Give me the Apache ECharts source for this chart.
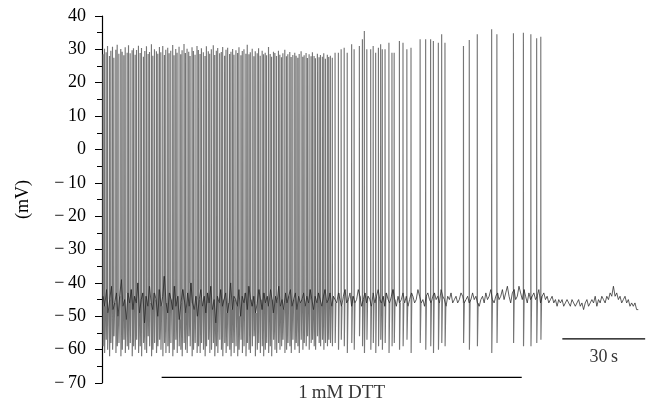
<!DOCTYPE html>
<html>
<head>
<meta charset="utf-8">
<script src="https://cdn.jsdelivr.net/npm/echarts@6/dist/echarts.min.js"></script>
<style>html,body{margin:0;padding:0;background:#fff}#c{width:646px;height:410px}</style>
</head>
<body>
<div id="c"></div>
<script>
// ---- Data (time in seconds, voltage in mV) ----
var yTicks = [-70, -60, -50, -40, -30, -20, -10, 0, 10, 20, 30, 40];

// Dense firing phase: spike times, peaks, troughs
var denseTimes = [0.4,0.9,1.5,2.0,2.7,3.2,3.8,4.3,5.0,5.5,
6.1,6.8,7.3,7.9,8.4,9.1,9.6,10.2,10.9,11.4,
12.0,12.5,13.2,13.8,14.3,15.0,15.5,16.1,16.7,17.2,
17.9,18.4,19.0,19.7,20.2,20.8,21.3,22.0,22.6,23.1,
23.8,24.3,24.9,25.6,26.1,26.7,27.2,27.9,28.5,29.0,
29.7,30.2,30.8,31.4,31.9,32.6,33.1,33.7,34.4,34.9,
35.5,36.0,36.7,37.3,37.8,38.5,39.0,39.6,40.3,40.8,
41.4,41.9,42.6,43.2,43.7,44.4,44.9,45.5,46.2,46.7,
47.3,47.8,48.5,49.1,49.6,50.3,50.8,51.4,52.1,52.6,
53.2,53.7,54.4,55.0,55.5,56.2,56.7,57.3,58.0,58.5,
59.1,59.6,60.3,60.9,61.4,62.1,62.6,63.2,63.9,64.4,
65.0,65.5,66.2,66.8,67.3,68.0,68.5,69.1,69.8,70.3,
70.9,71.4,72.1,72.7,73.2,73.9,74.4,75.0,75.7,76.2,
76.8,77.3,78.0,78.6,79.1,79.8,80.3,80.9,81.6,82.1,
82.7,83.4];
var densePeaks = [28.5,30.2,29.1,31.0,28.0,29.6,30.8,27.5,29.9,31.4,28.7,30.1,29.3,28.2,30.6,29.0,31.2,28.8,29.7,30.3,
28.4,29.8,31.1,28.9,30.4,27.8,29.5,30.9,28.6,29.2,31.5,28.1,30.0,29.4,28.7,30.7,29.1,31.0,28.3,29.9,
30.5,28.8,29.6,31.3,28.2,30.1,29.0,30.8,28.5,29.7,31.6,28.9,30.2,29.3,28.0,30.6,29.5,28.4,31.0,29.8,
28.6,30.3,29.1,28.0,30.9,29.4,28.7,30.0,31.2,28.3,29.6,30.4,28.8,29.2,30.7,28.1,29.9,30.5,28.6,29.3,
30.1,28.4,29.7,28.9,30.6,28.2,29.5,30.0,28.7,31.4,28.5,29.1,30.2,27.9,29.4,28.8,30.3,28.1,29.6,28.5,
29.0,28.2,30.7,28.6,27.8,29.3,28.9,28.0,29.6,28.4,27.6,28.8,29.9,27.9,28.5,29.2,27.7,28.3,29.0,28.1,
27.5,28.6,29.4,27.8,28.2,28.9,27.4,28.5,27.9,29.1,28.0,27.3,28.7,27.6,28.3,27.8,28.8,27.2,28.4,27.7,
28.1,27.5];
var denseTroughs = [-59,-61,-57,-60,-62,-58,-60,-56,-61,-59,-58,-62,-60,-57,-61,-59,-60,-58,-62,-59,
-60,-57,-61,-59,-62,-58,-60,-61,-56,-59,-62,-60,-58,-61,-59,-57,-60,-62,-58,-61,
-59,-61,-58,-62,-60,-57,-61,-59,-60,-62,-58,-60,-61,-56,-59,-62,-60,-58,-61,-59,
-61,-58,-60,-62,-59,-57,-61,-60,-58,-62,-59,-61,-57,-60,-62,-58,-61,-59,-60,-62,
-58,-61,-59,-62,-60,-57,-61,-59,-62,-58,-60,-61,-59,-56,-62,-60,-58,-61,-59,-62,
-60,-58,-61,-59,-62,-57,-60,-61,-58,-60,-59,-57,-61,-60,-58,-59,-61,-57,-60,-58,
-59,-61,-57,-60,-58,-59,-56,-60,-58,-57,-59,-60,-56,-58,-59,-57,-60,-58,-59,-57,
-58,-59];

// Sparse firing phase
var sparseTimes = [84.4,85.6,86.6,87.7,88.8,90.4,91.3,93.2,94.3,95.0,
95.9,97.3,98.2,99.1,100.1,100.9,101.5,102.5,103.9,105.0,
105.8,107.7,109.0,110.4,111.9,115.2,117.2,119.0,120.0,121.8,
123.0,124.2,130.9,133.0,135.9,141.1,143.0,149.0,152.6,155.3,
157.4,158.9];
var sparsePeaks = [29,29,30,30.5,29,31.5,30,31,33,35.5,
30,30,31,29,30.5,31.5,30,30,32,29,
29,32.5,32,30,30.5,33,33,33,32.5,32,
34.5,32,31,32.8,34.5,36,34.5,34.8,35,34.5,
33.3,33.8];
var sparseTroughs = [-58,-60,-57,-59,-61,-58,-60,-56,-59,-61,
-57,-60,-58,-61,-59,-57,-60,-58,-61,-59,
-58,-60,-59,-57,-61,-58,-60,-59,-61,-60,
-58,-59,-58,-60,-59,-61,-58,-58,-59,-59,
-58,-57];

// Baseline membrane potential, sampled from 0.4 s every 0.6 s
var baselineStart = 0.4, baselineStep = 0.6;
var baselineMv = [
-44,-47,-42,-49,-45,-41,-48,-46,-43,-50,-44,-39,-47,-45,-51,-43,-46,-42,-48,-44,
-46,-40,-49,-45,-43,-52,-44,-47,-41,-46,-48,-43,-45,-50,-42,-47,-44,-38,-46,-49,
-43,-45,-48,-41,-47,-44,-51,-46,-42,-45,-49,-43,-47,-40,-46,-48,-44,-50,-45,-42,
-47,-44,-49,-43,-46,-41,-48,-45,-52,-44,-46,-42,-47,-45,-43,-49,-46,-40,-48,-44,
-45,-47,-42,-50,-44,-46,-43,-48,-41,-45,-47,-44,-49,-46,-42,-45,-48,-43,-46,-44,
-47,-42,-45,-49,-44,-46,-41,-47,-45,-48,-43,-46,-44,-42,-47,-45,-43,-48,-44,-46,
-45,-43,-47,-44,-46,-42,-45,-48,-44,-46,-43,-45,-47,-44,-42,-46,-45,-43,-47,-44,
-44,-46,-43,-45,-47,-44,-42,-46,-45,-43,-47,-44,-46,-45,-42,-44,-47,-45,-43,-46,
-44,-45,-47,-43,-46,-44,-42,-45,-46,-44,-47,-43,-45,-46,-44,-42,-45,-47,-44,-46,
-45,-43,-46,-44,-47,-45,-43,-44,-46,-45,-42,-44,-46,-45,-47,-44,-43,-45,-46,-44,
-43,-45,-44,-46,-42,-44,-45,-47,-44,-45,-43,-46,-45,-44,-46,-45,-43,-44,-46,-45,
-44,-46,-45,-43,-45,-44,-46,-47,-45,-44,-46,-43,-45,-44,-42,-45,-46,-44,-43,-45,
-44,-42,-45,-43,-41,-44,-46,-43,-42,-45,-44,-41,-43,-45,-42,-44,-46,-43,-45,-44,
-43,-45,-44,-42,-46,-44,
-43,-45,-44,-46,-45,-44,-46,-45,-47,-45,
-46,-45,-47,-46,-45,-46,-47,-45,-46,-47,
-46,-45,-47,-46,-48,-46,-45,-47,-46,-45,
-46,-44,-47,-45,-46,-44,-45,-46,-44,-45,
-43,-44,-41,-44,-43,-45,-44,-46,-45,-44,
-46,-45,-47,-46,-47,-46,-48,-48];

// Annotations
var dttBar = [21.6, 152.0];     // 1 mM DTT application (s)
var scaleBarStart = 166.7, scaleBarLength = 30; // 30 s

// ---- Build trace: baseline (dark) and action potentials (grey) ----
var spikeT = denseTimes.concat(sparseTimes);
var spikeP = densePeaks.concat(sparsePeaks);
var spikeQ = denseTroughs.concat(sparseTroughs);
function baseAt(t) {
  var idx = Math.min(baselineMv.length - 1, Math.max(0, Math.round((t - baselineStart) / baselineStep)));
  return baselineMv[idx];
}
var basePts = [];
for (var i = 0; i < baselineMv.length; i++) {
  basePts.push([+(baselineStart + i * baselineStep).toFixed(2), baselineMv[i]]);
}
var spikePts = [];
for (var k = 0; k < spikeT.length; k++) {
  var t = spikeT[k];
  spikePts.push([t - 0.02, baseAt(t)]);
  spikePts.push([t, spikeP[k]]);
  spikePts.push([t + 0.05, spikeQ[k]]);
  spikePts.push([t + 0.3, baseAt(t + 0.3)]);
  spikePts.push([t + 0.31, null]);
}

var serif = 'Liberation Serif, Times New Roman, serif';
var chart = echarts.init(document.getElementById('c'), null, {renderer: 'canvas'});
chart.setOption({
  animation: false,
  grid: {left: 102, right: 0, top: 16, bottom: 27},
  xAxis: {type: 'value', min: 0, max: 197, show: false},
  yAxis: {
    type: 'value', min: yTicks[0], max: yTicks[yTicks.length - 1], interval: 10,
    axisLine: {show: true, lineStyle: {color: '#000', width: 1.2}},
    axisTick: {show: true, length: 7, lineStyle: {color: '#000', width: 1}},
    minorTick: {show: true, splitNumber: 2, length: 5, lineStyle: {color: '#000', width: 1}},
    splitLine: {show: false},
    axisLabel: {
      color: '#000', fontFamily: serif, fontSize: 18, margin: 16,
      formatter: function (v) { return v < 0 ? '\u2212\u2009' + Math.abs(v) : String(v); }
    },
    name: '(mV)', nameLocation: 'middle', nameGap: 70,
    nameTextStyle: {color: '#000', fontFamily: serif, fontSize: 18}
  },
  series: [
    {type: 'line', data: spikePts, symbol: 'none', silent: true, connectNulls: false,
     lineStyle: {color: '#767676', width: 1.15}},
    {type: 'line', data: basePts, symbol: 'none', silent: true,
     lineStyle: {color: '#262626', width: 0.75}},
    {type: 'line', data: [[dttBar[0], -68.3], [dttBar[1], -68.3]], symbol: 'none', silent: true,
     lineStyle: {color: '#000', width: 1.3}},
    {type: 'line', data: [[scaleBarStart, -56.8], [scaleBarStart + scaleBarLength, -56.8]], symbol: 'none', silent: true,
     lineStyle: {color: '#000', width: 1.3}},
    {type: 'scatter', symbolSize: 0, clip: false, silent: true,
     data: [
       {value: [(dttBar[0] + dttBar[1]) / 2, -73.0], label: {formatter: '1\u2009mM DTT', fontSize: 19}},
       {value: [scaleBarStart + scaleBarLength / 2, -62.2], label: {formatter: '30\u2009s'}}
     ],
     label: {show: true, position: 'inside', color: '#000', fontFamily: serif, fontSize: 18}}
  ]
});
</script>
</body>
</html>
